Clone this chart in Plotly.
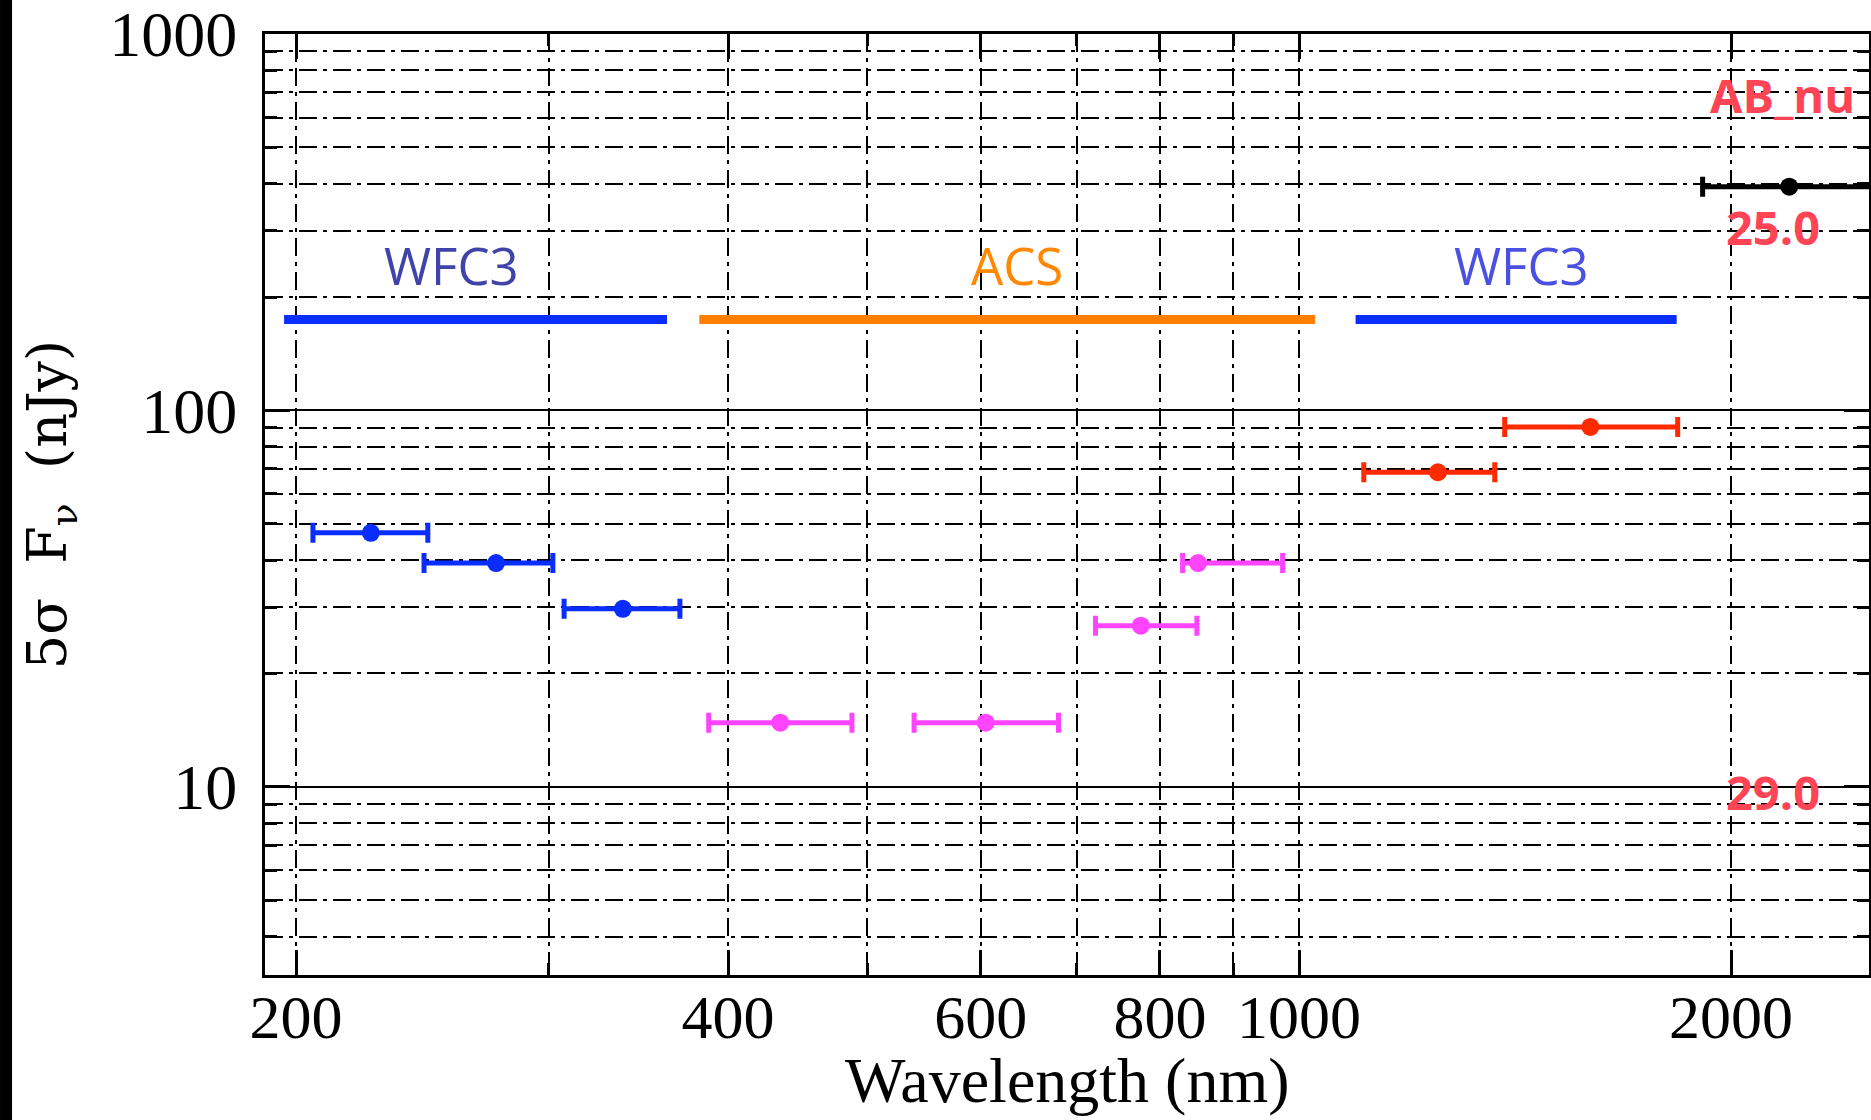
import math
import plotly.graph_objects as go

# ---------------- data ----------------
# filter photometry: central wavelength, band edges (nm), 5-sigma depth (nJy)
uv_wave = [225.5, 275.7, 337.9]
uv_lo = [205.5, 245.6, 307.5]
uv_hi = [247.1, 302.0, 370.3]
uv_flux = [47.3, 39.3, 29.7]

acs_wave = [435.0, 604.8, 775.8, 850.4]
acs_lo = [387.8, 539.2, 721.4, 829.6]
acs_hi = [488.0, 679.8, 848.8, 974.0]
acs_flux = [14.8, 14.8, 26.8, 39.3]

ir_wave = [1249.6, 1596.0]
ir_lo = [1109.5, 1391.0]
ir_hi = [1369.0, 1836.0]
ir_flux = [68.5, 90.4]

k_wave = [2196.0]
k_lo = [1911.0]
k_hi = [2530.0]
k_flux = [393.0]

# instrument coverage bars
inst_names = ["WFC3", "ACS", "WFC3"]
inst_start = [196.2, 382.0, 1095.0]
inst_end = [362.7, 1026.0, 1833.0]
inst_level = 174.3
inst_colors = ["#0a2dff", "#ff7f00", "#0a2dff"]
inst_label_x = [256.6, 635.6, 1428.0]
inst_label_y = 243.7
inst_label_colors = ["#4044a8", "#ff8800", "#4a50e0"]

# AB magnitude annotations
ab_labels = ["AB_nu", "25.0", "29.0"]
ab_x = [2171.0, 2140.0, 2140.0]
ab_y = [688.6, 307.0, 9.66]

x_ticks = [200, 400, 600, 800, 1000, 2000]
x_minor = [300, 500, 700, 900]
y_ticks = [10, 100, 1000]
y_minor = [4, 5, 6, 7, 8, 9, 20, 30, 40, 50, 60, 70, 80, 90,
           200, 300, 400, 500, 600, 700, 800, 900]

x_title = "Wavelength (nm)"
y_title = "5σ  F<sub>ν</sub>  (nJy)"

fig = go.Figure()

# instrument bars
for s, e, c in zip(inst_start, inst_end, inst_colors):
    fig.add_trace(go.Scatter(x=[s, e], y=[inst_level, inst_level], mode="lines",
                             line=dict(color=c, width=9), hoverinfo="skip",
                             showlegend=False))

def add_points(wave, lo, hi, flux, color):
    fig.add_trace(go.Scatter(
        x=wave, y=flux, mode="markers",
        marker=dict(color=color, size=18),
        error_x=dict(type="data", symmetric=False,
                     array=[h - w for h, w in zip(hi, wave)],
                     arrayminus=[w - l for w, l in zip(wave, lo)],
                     color=color, thickness=5, width=10),
        showlegend=False, cliponaxis=True))

add_points(uv_wave, uv_lo, uv_hi, uv_flux, "#0a2dff")
add_points(acs_wave, acs_lo, acs_hi, acs_flux, "#ff44ff")
add_points(ir_wave, ir_lo, ir_hi, ir_flux, "#ff2a00")
add_points(k_wave, k_lo, k_hi, k_flux, "#000000")

ann_font = "Open Sans, Lato, sans-serif"
for name, x, c in zip(inst_names, inst_label_x, inst_label_colors):
    fig.add_annotation(x=math.log10(x), y=math.log10(inst_label_y), xref="x", yref="y",
                       text=name, showarrow=False,
                       font=dict(family=ann_font, size=51, color=c))
for t, x, y in zip(ab_labels, ab_x, ab_y):
    fig.add_annotation(x=math.log10(x), y=math.log10(y), xref="x", yref="y",
                       text="<b>%s</b>" % t, showarrow=False,
                       font=dict(family=ann_font, size=47, color="#ff4455"))

dash = "18px,6px,4px,6px"
serif = "Liberation Serif, serif"

# x-axis title drawn as a paper annotation so it sits just below the tick labels
fig.add_annotation(text=x_title, xref="paper", yref="paper", x=0.5, y=-0.112,
                   xanchor="center", yanchor="middle", showarrow=False,
                   font=dict(family=serif, size=64, color="black"))

fig.update_xaxes(
    type="log", range=[2.2794, 3.3972], automargin=False,
    tickvals=x_ticks, ticktext=[str(v) for v in x_ticks],
    tickfont=dict(family=serif, size=62, color="black"),
    ticks="inside", ticklen=25, tickwidth=3, ticklabeloverflow="allow",
    tickcolor="black", mirror="allticks", showline=True, linewidth=3,
    linecolor="black", showgrid=True, gridcolor="black", gridwidth=1.5,
    griddash=dash, zeroline=False, ticklabelstandoff=-14,
    minor=dict(tickvals=x_minor, ticks="inside", ticklen=12, tickwidth=3,
               tickcolor="black", showgrid=True, gridcolor="black",
               gridwidth=1.5, griddash=dash),
)
fig.update_yaxes(
    type="log", range=[0.5, 3.0], automargin=False,
    tickvals=y_ticks, ticktext=[str(v) for v in y_ticks],
    tickfont=dict(family=serif, size=64, color="black"),
    ticks="inside", ticklen=25, tickwidth=3, ticklabeloverflow="allow",
    tickcolor="black", mirror="allticks", showline=True, linewidth=3,
    linecolor="black", showgrid=True, gridcolor="black", gridwidth=1.5,
    zeroline=False, ticklabelstandoff=12,
    minor=dict(tickvals=y_minor, ticks="inside", ticklen=12, tickwidth=3,
               tickcolor="black", showgrid=True, gridcolor="black",
               gridwidth=1.5, griddash=dash),
    title=dict(text=y_title, standoff=26,
               font=dict(family="DejaVu Serif, serif", size=54, color="black")),
)

fig.add_shape(type="rect", xref="paper", yref="paper",
              x0=-0.1652, x1=-0.1577, y0=-0.2, y1=1.1,
              fillcolor="black", line=dict(width=0), layer="above")

fig.update_layout(
    width=1871, height=1120,
    margin=dict(l=265, r=2, t=34, b=145),
    paper_bgcolor="white", plot_bgcolor="white",
    showlegend=False,
)

fig.write_html("out.html", config={"displayModeBar": False},
               post_script="document.body.style.margin='0';")
